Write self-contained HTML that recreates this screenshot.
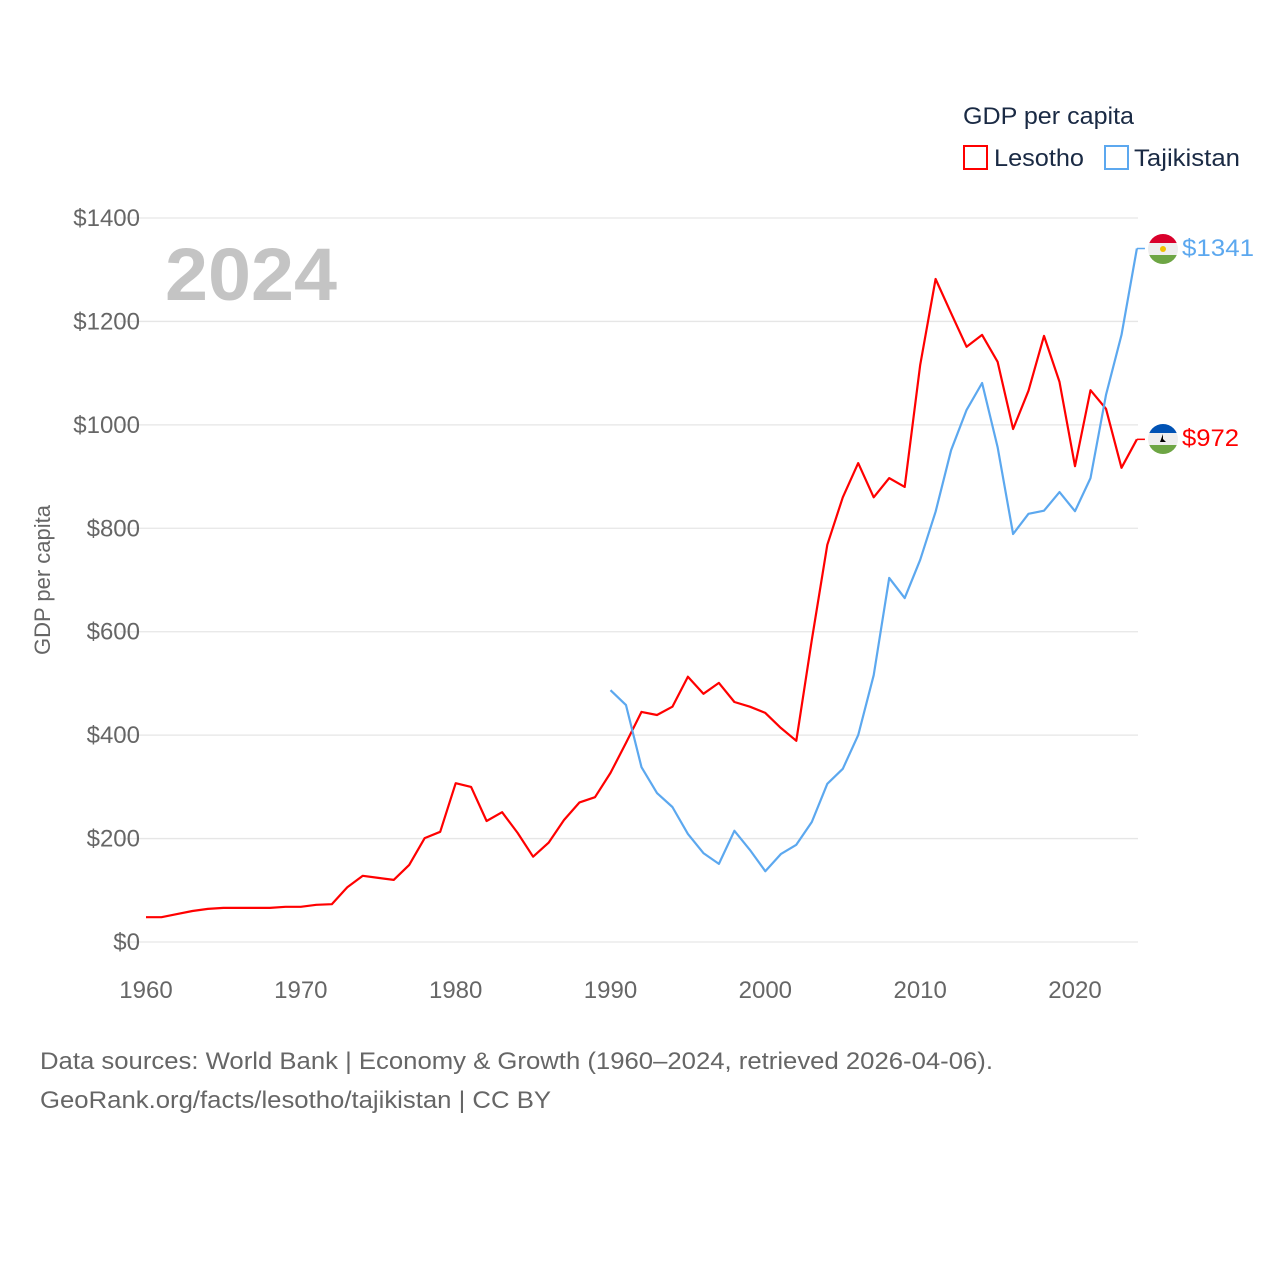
<!DOCTYPE html>
<html><head><meta charset="utf-8"><style>
body{margin:0;background:#fff;font-family:"Liberation Sans",sans-serif}
svg text{font-family:"Liberation Sans",sans-serif}
</style></head><body>
<svg id="chart" width="1280" height="1280" viewBox="0 0 1280 1280" xmlns="http://www.w3.org/2000/svg">
<g id="grid"></g>
<text x="165" y="300" font-size="74" font-weight="bold" fill="#c4c4c4" textLength="172" lengthAdjust="spacingAndGlyphs">2024</text>
<text transform="translate(50,580) rotate(-90)" text-anchor="middle" font-size="22" fill="#666">GDP per capita</text>
<g id="series"></g>
<text x="963" y="124" font-size="24" fill="#1a2a44" textLength="171" lengthAdjust="spacingAndGlyphs">GDP per capita</text>
<rect x="964" y="146" width="23" height="23" fill="none" stroke="#ff0000" stroke-width="2"/>
<text x="994" y="166" font-size="24" fill="#1a2a44" textLength="90" lengthAdjust="spacingAndGlyphs">Lesotho</text>
<rect x="1105" y="146" width="23" height="23" fill="none" stroke="#5ca8ef" stroke-width="2"/>
<text x="1134" y="166" font-size="24" fill="#1a2a44" textLength="106" lengthAdjust="spacingAndGlyphs">Tajikistan</text>
<g>
<clipPath id="ct"><circle cx="1163" cy="249" r="15"/></clipPath>
<g clip-path="url(#ct)"><rect x="1148" y="234" width="30" height="9" fill="#d9002b"/><rect x="1148" y="243" width="30" height="12" fill="#eee"/><rect x="1148" y="255" width="30" height="9" fill="#6da544"/><circle cx="1163" cy="249" r="3" fill="#f0c000"/></g></g>
<g>
<clipPath id="cl"><circle cx="1163" cy="439" r="15"/></clipPath>
<g clip-path="url(#cl)"><rect x="1148" y="424" width="30" height="9" fill="#0052b4"/><rect x="1148" y="433" width="30" height="12" fill="#eee"/><rect x="1148" y="445" width="30" height="9" fill="#6da544"/><path d="M1163 434 l0 5 l3 3 h-6 z" fill="#000"/></g></g>
<text x="1182" y="256" font-size="24" fill="#5ca8ef" textLength="72" lengthAdjust="spacingAndGlyphs">$1341</text>
<text x="1182" y="446" font-size="24" fill="#ff0000" textLength="57" lengthAdjust="spacingAndGlyphs">$972</text>
<text x="40" y="1069" font-size="24" fill="#666" textLength="953" lengthAdjust="spacingAndGlyphs">Data sources: World Bank | Economy &amp; Growth (1960–2024, retrieved 2026-04-06).</text>
<text x="40" y="1108" font-size="24" fill="#666" textLength="511" lengthAdjust="spacingAndGlyphs">GeoRank.org/facts/lesotho/tajikistan | CC BY</text>
</svg>
<script>
const lesothoYears=[];for(let y=1960;y<=2024;y++)lesothoYears.push(y);
const lesothoValues=[48,48,54,60,64,66,66,66,66,68,68,72,73,106,128,124,120,149,201,213,307,300,234,251,211,165,192,236,270,280,327,385,445,439,455,513,480,501,464,455,443,414,389,584,768,860,926,860,897,880,1116,1282,1216,1151,1174,1122,992,1066,1172,1083,920,1067,1031,917,972];
const tajikYears=[];for(let y=1990;y<=2024;y++)tajikYears.push(y);
const tajikValues=[487,458,338,288,261,209,172,151,215,178,137,170,188,232,306,335,400,516,704,665,739,832,951,1029,1081,957,789,828,834,870,833,897,1058,1174,1341];
const yTicks=[0,200,400,600,800,1000,1200,1400];
const xTicks=[1960,1970,1980,1990,2000,2010,2020];
const xs=y=>146+(y-1960)*(1075-146)/60;
const ys=v=>942-v*(942-218)/1400;
const NS='http://www.w3.org/2000/svg';
const grid=document.getElementById('grid'),series=document.getElementById('series');
function mk(tag,attrs,parent){const e=document.createElementNS(NS,tag);for(const k in attrs)e.setAttribute(k,attrs[k]);parent.appendChild(e);return e;}
yTicks.forEach(v=>{
 const l=mk('line',{x1:120,x2:1138,y1:ys(v),y2:ys(v),stroke:'#e6e6e6','stroke-width':1.3},grid);
 
 
 const t=mk('text',{x:140,y:ys(v)+8,'text-anchor':'end','font-size':24,fill:'#666'},grid);
 t.textContent='$'+v;
 
 
});
xTicks.forEach(y=>{
 const t=mk('text',{x:xs(y),y:998,'text-anchor':'middle','font-size':24,fill:'#666'},grid);
 t.textContent=y;
 
 
});
function line(years,vals,color,name){
 const d=years.map((y,i)=>(i?'L':'M')+xs(y).toFixed(1)+' '+ys(vals[i]).toFixed(1)).join(' ');
 const p=mk('path',{d:d,fill:'none',stroke:color,'stroke-width':2.2,'stroke-linejoin':'round'},series);
 
 
 const last=vals[vals.length-1],lx=xs(years[years.length-1]);
 const s=mk('line',{x1:lx,x2:lx+8,y1:ys(last),y2:ys(last),stroke:color,'stroke-width':1.5},series);
 
 
}
line(lesothoYears,lesothoValues,'#ff0000','line-lesotho');
line(tajikYears,tajikValues,'#5ca8ef','line-tajikistan');
</script>
</body></html>
